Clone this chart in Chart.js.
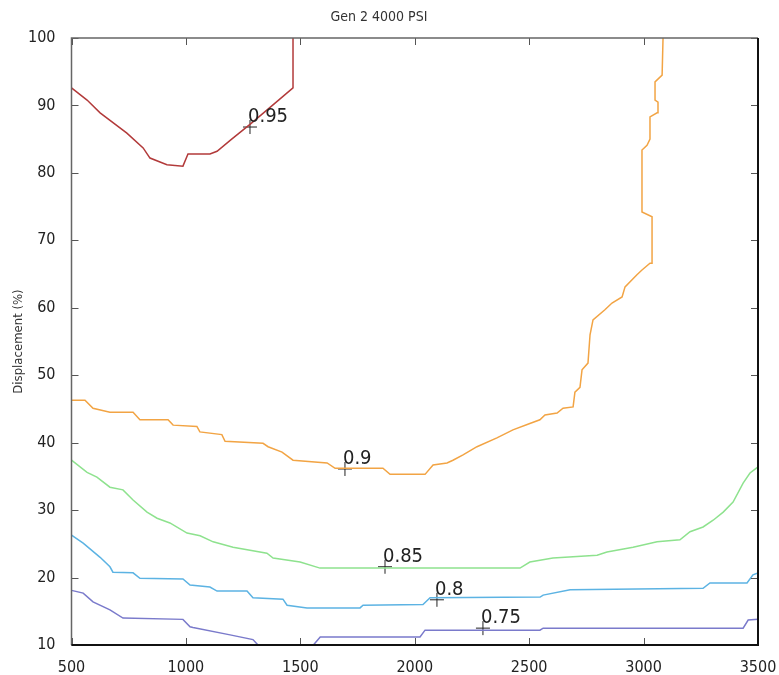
<!DOCTYPE html>
<html lang="en">
<head>
<meta charset="UTF-8">
<title>Gen 2 4000 PSI</title>
<script src="https://cdn.jsdelivr.net/npm/chart.js"></script>
<style>
  html, body { margin:0; padding:0; background:#fff; }
  #wrap { width:779px; height:675px; }
</style>
</head>
<body>
<div id="wrap"><canvas id="contourChart" width="779" height="675"></canvas></div>
<script>
// axis ticks
const xTicks = [500, 1000, 1500, 2000, 2500, 3000, 3500];
const yTicks = [10, 20, 30, 40, 50, 60, 70, 80, 90, 100];

// contour 0.95
const x095 = [500, 568, 625, 742, 813, 843, 917, 987, 1009, 1105, 1136, 1200, 1280, 1360, 1468, 1468];
const y095 = [92.6, 90.8, 88.9, 85.9, 83.7, 82.2, 81.2, 81.0, 82.8, 82.8, 83.2, 85.0, 87.2, 89.5, 92.6, 100];

// contour 0.9
const x090 = [500, 559, 594, 668, 769, 799, 922, 944, 1048, 1061, 1157, 1171, 1337, 1359, 1420, 1468, 1617, 1652,
  1861, 1892, 2045, 2080, 2141, 2167, 2211, 2272, 2359, 2429, 2500, 2547, 2569, 2622, 2648, 2692, 2700, 2722,
  2731, 2757, 2766, 2779, 2831, 2862, 2906, 2919, 2971, 2993, 3028, 3037, 3037, 2993, 2993, 3015, 3028, 3028,
  3059, 3063, 3050, 3050, 3081, 3085];
const y090 = [46.3, 46.3, 45.1, 44.5, 44.5, 43.4, 43.4, 42.6, 42.4, 41.6, 41.2, 40.2, 39.9, 39.4, 38.6, 37.4, 37.0, 36.2,
  36.2, 35.3, 35.3, 36.7, 37.0, 37.4, 38.2, 39.4, 40.7, 41.9, 42.8, 43.4, 44.1, 44.4, 45.1, 45.3, 47.5, 48.2,
  50.8, 51.8, 56.0, 58.2, 59.7, 60.7, 61.6, 63.1, 64.9, 65.6, 66.6, 66.6, 73.5, 74.2, 83.4, 84.1, 85.0, 88.3,
  88.9, 90.5, 90.8, 93.5, 94.5, 100];

// contour 0.85
const x085 = [500, 568, 611, 668, 725, 769, 830, 874, 930, 1005, 1062, 1119, 1206, 1354, 1381, 1499, 1586, 2460,
  2503, 2604, 2797, 2840, 2954, 3059, 3159, 3203, 3260, 3304, 3348, 3391, 3435, 3465, 3500];
const y085 = [37.4, 35.6, 34.9, 33.4, 33.0, 31.5, 29.7, 28.8, 28.1, 26.6, 26.2, 25.3, 24.5, 23.6, 22.9, 22.3, 21.4, 21.4,
  22.3, 22.9, 23.3, 23.8, 24.5, 25.3, 25.6, 26.8, 27.5, 28.5, 29.7, 31.2, 34.0, 35.5, 36.4];

// contour 0.8
const x080 = [500, 551, 625, 668, 681, 769, 799, 987, 1018, 1105, 1136, 1267, 1293, 1424, 1442, 1529, 1761, 1774,
  2036, 2067, 2548, 2561, 2679, 3260, 3290, 3452, 3478, 3500];
const y080 = [26.3, 25.1, 23.0, 21.6, 20.8, 20.7, 19.9, 19.8, 18.9, 18.6, 18.0, 18.0, 17.0, 16.8, 15.9, 15.5, 15.5, 15.9,
  16.0, 17.0, 17.1, 17.4, 18.2, 18.4, 19.2, 19.2, 20.4, 20.7];

// contour 0.75 (leaves the plot at the bottom between ~1315 and ~1560)
const x075 = [500, 551, 594, 668, 725, 987, 1018, 1031, 1193, 1293, 1315, 1400, 1557, 1587, 2023, 2045, 2547, 2561,
  3435, 3457, 3500];
const y075 = [18.1, 17.7, 16.4, 15.2, 14.0, 13.8, 12.7, 12.6, 11.5, 10.8, 10.0, null, 10.0, 11.2, 11.2, 12.2, 12.2, 12.5,
  12.5, 13.7, 13.8];

// contour labels
const labelText = ['0.95', '0.9', '0.85', '0.8', '0.75'];
const labelX = [1280, 1695, 1870, 2097, 2298];
const labelY = [86.8, 36.1, 21.6, 16.7, 12.5];

const pts = (xs, ys) => xs.map((x, i) => ({ x: x, y: ys[i] }));
const line = (xs, ys, color) => ({
  data: pts(xs, ys), showLine: true, borderColor: color, borderWidth: 1.5,
  pointRadius: 0, tension: 0, fill: false
});

const fontFam = "'DejaVu Sans Condensed', 'Liberation Sans', Arial, sans-serif";

// box + inward tick marks like the original plot
const framePlugin = {
  id: 'frame',
  afterDraw(chart) {
    const { ctx, chartArea: a, scales: { x, y } } = chart;
    ctx.save();
    ctx.strokeStyle = '#555';
    ctx.lineWidth = 1;
    ctx.beginPath();
    xTicks.forEach(v => {
      const px = Math.round(x.getPixelForValue(v)) + 0.5;
      ctx.moveTo(px, a.bottom); ctx.lineTo(px, a.bottom - 7);
      ctx.moveTo(px, a.top); ctx.lineTo(px, a.top + 7);
    });
    yTicks.forEach(v => {
      const py = Math.round(y.getPixelForValue(v)) + 0.5;
      ctx.moveTo(a.left, py); ctx.lineTo(a.left + 7, py);
      ctx.moveTo(a.right, py); ctx.lineTo(a.right - 7, py);
    });
    ctx.stroke();
    ctx.strokeStyle = '#666';
    ctx.lineWidth = 1.5;
    ctx.beginPath();
    ctx.moveTo(a.left, a.bottom); ctx.lineTo(a.left, a.top); ctx.lineTo(a.right, a.top);
    ctx.stroke();
    ctx.strokeStyle = '#111';
    ctx.lineWidth = 2;
    ctx.beginPath();
    ctx.moveTo(a.right, a.top); ctx.lineTo(a.right, a.bottom); ctx.lineTo(a.left, a.bottom);
    ctx.stroke();
    ctx.restore();
  }
};

// clabel-style text next to each "+" marker
const labelPlugin = {
  id: 'clabels',
  afterDatasetsDraw(chart) {
    const { ctx, scales: { x, y } } = chart;
    ctx.save();
    ctx.font = '20px ' + fontFam;
    ctx.fillStyle = '#222';
    ctx.textAlign = 'left';
    ctx.textBaseline = 'alphabetic';
    labelText.forEach((t, i) => {
      ctx.fillText(t, x.getPixelForValue(labelX[i]) - 2, y.getPixelForValue(labelY[i]) - 5);
    });
    ctx.restore();
  }
};

const chart = new Chart(document.getElementById('contourChart'), {
  type: 'scatter',
  data: {
    datasets: [
      line(x095, y095, '#b23a3a'),
      line(x090, y090, '#f2a444'),
      line(x085, y085, '#8ee28e'),
      line(x080, y080, '#5cb3e3'),
      line(x075, y075, '#7a7acb'),
      {
        data: pts(labelX, labelY), showLine: false, pointStyle: 'cross',
        pointRadius: 7, pointBorderColor: '#222', pointBorderWidth: 1, pointBackgroundColor: '#222'
      }
    ]
  },
  options: {
    responsive: false,
    animation: false,
    devicePixelRatio: 1,
    layout: { padding: { left: 0, right: 21, top: 0, bottom: 0 } },
    plugins: {
      legend: { display: false },
      tooltip: { enabled: false },
      title: {
        display: true, text: 'Gen 2 4000 PSI', color: '#333',
        font: { family: fontFam, size: 14, weight: 'normal' },
        padding: { top: 9, bottom: 12.2 }
      }
    },
    scales: {
      x: {
        type: 'linear', min: 500, max: 3500,
        grid: { display: false },
        border: { display: false },
        afterBuildTicks: s => { s.ticks = xTicks.map(v => ({ value: v })); },
        afterFit: s => { s.height = 30; s.paddingLeft = 0; s.paddingRight = 0; },
        ticks: {
          color: '#222', padding: 5, maxRotation: 0, font: { family: fontFam, size: 16 },
          callback: v => String(v)
        }
      },
      y: {
        type: 'linear', min: 10, max: 100,
        grid: { display: false },
        border: { display: false },
        afterBuildTicks: s => { s.ticks = yTicks.map(v => ({ value: v })); },
        afterFit: s => { s.width = 71.5; s.paddingTop = 0; s.paddingBottom = 0; },
        ticks: { color: '#222', padding: 8, font: { family: fontFam, size: 16 }, callback: v => String(v) },
        title: {
          display: true, text: 'Displacement (%)', color: '#333',
          font: { family: fontFam, size: 13 }, padding: { top: 11, bottom: 0 }
        }
      }
    }
  },
  plugins: [framePlugin, labelPlugin]
});
</script>
</body>
</html>
